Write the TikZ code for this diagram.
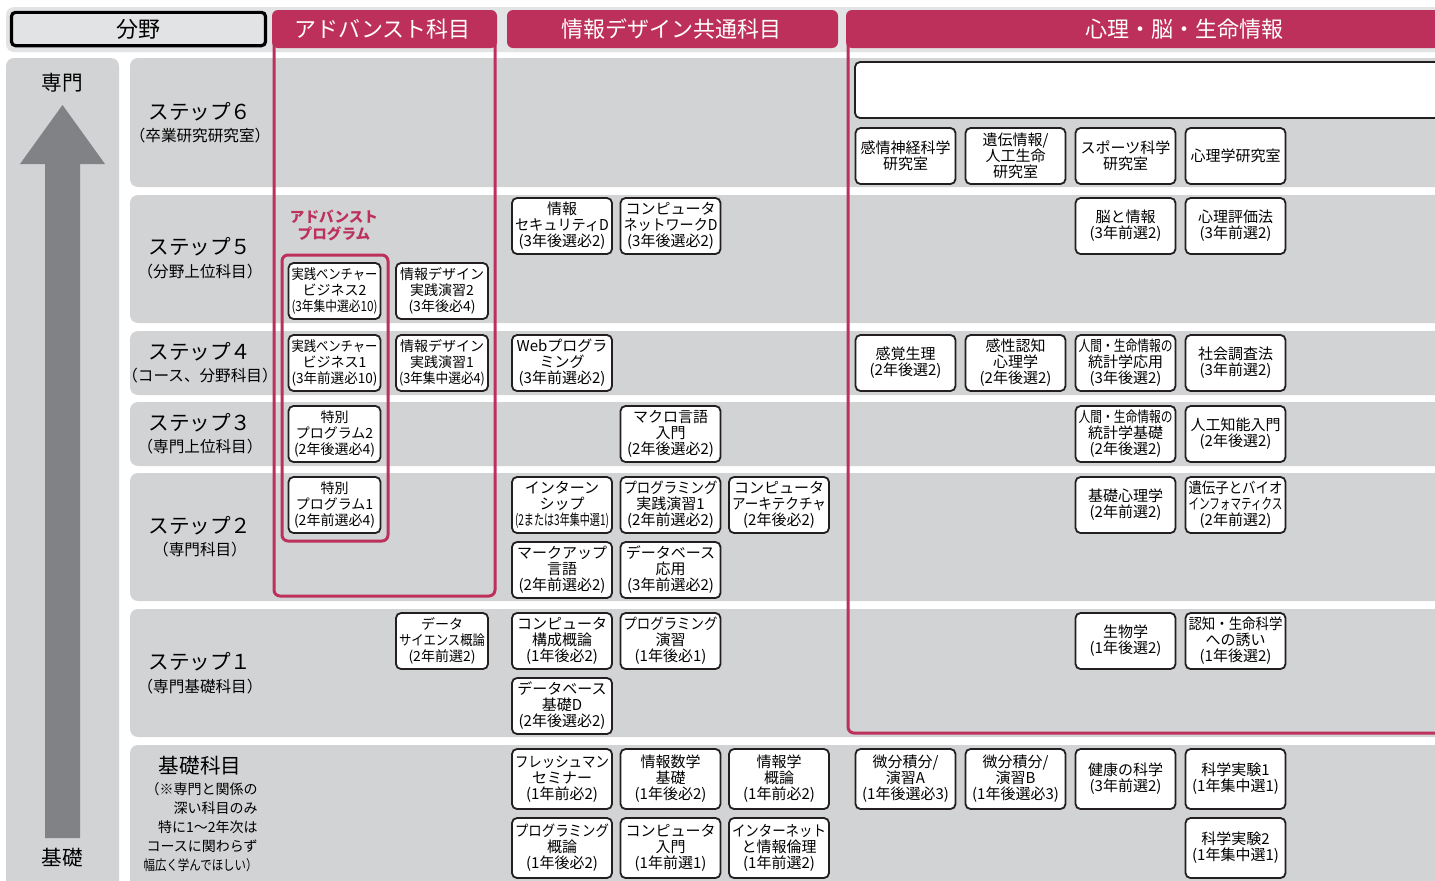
\documentclass[tikz,border=0pt]{standalone}
\usepackage{fontspec}
\setmainfont{Noto Sans CJK JP}
\usepackage{graphicx}
\usetikzlibrary{positioning}

\definecolor{rowgray}{HTML}{D1D3D4}
\definecolor{stripgray}{HTML}{E2E3E4}
\definecolor{arrowgray}{HTML}{808285}
\definecolor{advpink}{HTML}{BE305C}
\definecolor{boxline}{HTML}{231F20}

% squeeze a line that is wider than the box
\newlength\flmax
\newsavebox\flbox
\newcommand\fl[1]{\sbox\flbox{#1}\ifdim\wd\flbox>\flmax\relax
  \pgfmathsetmacro\fitf{\the\flmax/\the\wd\flbox}\scalebox{\fitf}[1]{\usebox\flbox}\else\usebox\flbox\fi}
\newcommand\twoln[2]{\fl{#1}\\\fl{#2}}
\newcommand\threeln[3]{\fl{#1}\\\fl{#2}\\\fl{#3}}

\tikzset{
  row/.style={fill=rowgray, rounded corners=4pt},
  course/.style={draw=boxline, fill=white, line width=0.9pt, rounded corners=2.5pt,
    minimum width=50pt, minimum height=28pt, inner sep=0.5pt, align=center,
    font=\fontsize{7.5}{8}\selectfont, execute at begin node={\setlength\flmax{47pt}}},
  advcourse/.style={course, minimum width=46pt, font=\fontsize{7}{8}\selectfont,
    execute at begin node={\setlength\flmax{43pt}}},
  basecourse/.style={course, minimum height=30pt},
  steptitle/.style={font=\fontsize{10.3}{12}\selectfont},
  stepsub/.style={font=\fontsize{7.8}{9}\selectfont},
  headtext/.style={font=\fontsize{11}{13}\selectfont, text=white},
  frame/.style={draw=advpink, line width=1.5pt, rounded corners=3pt},
  notes/.style={font=\fontsize{7}{9.5}\selectfont, align=right, inner sep=0pt,
    execute at begin node={\setlength\flmax{57pt}}},
}

\begin{document}
\begin{tikzpicture}[x=0.5pt, y=-0.5pt]
\useasboundingbox (0,0) rectangle (1435,880);
\clip (0,0) rectangle (1435,880);

% background bands
\fill[stripgray, rounded corners=4pt] (6,7) rectangle (1460,52);
\fill[row] (6,58) rectangle (119,900);
\fill[row] (130,58) rectangle (1460,187);
\fill[row] (130,195) rectangle (1460,323);
\fill[row] (130,331) rectangle (1460,395);
\fill[row] (130,402) rectangle (1460,466);
\fill[row] (130,473) rectangle (1460,601);
\fill[row] (130,609) rectangle (1460,737);
\fill[row] (130,745) rectangle (1460,900);

% level arrow
\fill[arrowgray] (45,838) -- (45,164) -- (20,164) -- (62.5,105) -- (105,164) -- (80,164) -- (80,838) -- cycle;
\node[steptitle] (expert) at (62,83) {専門};
\node[steptitle] (basic) at (62,858) {基礎};

% column headers and frames
\node[draw=black, line width=1.6pt, rounded corners=2pt, fill=stripgray, minimum width=127pt,
  minimum height=16.5pt, font=\fontsize{11}{13}\selectfont] (field) at (138.5,29) {分野};
\fill[advpink, rounded corners=3pt] (272,10) rectangle (497,48);
\draw[frame] (274,30) -- (274,596) -- (495,596) -- (495,30);
\draw[frame] (282,255) rectangle (388,541);
\fill[advpink, rounded corners=3pt] (507,10) rectangle (838,48);
\fill[advpink, rounded corners=3pt] (846,10) rectangle (1460,48);
\draw[frame] (848,30) -- (848,733) -- (1460,733);
\node[headtext] (advhead) at (382.5,29) {アドバンスト科目};
\node[headtext] (commonhead) at (671.5,29) {情報デザイン共通科目};
\node[headtext] (psyhead) at (1184,29) {心理・脳・生命情報};

% step labels
\node[steptitle] (s6) at (200,112) {ステップ６};
\node[stepsub] (s6sub) at (200,136) {（卒業研究研究室）};
\node[steptitle] (s5) at (200,247) {ステップ５};
\node[stepsub] (s5sub) at (200,272) {（分野上位科目）};
\node[steptitle] (s4) at (200,352) {ステップ４};
\node[stepsub] (s4sub) at (200,376) {（コース、分野科目）};
\node[steptitle] (s3) at (200,423) {ステップ３};
\node[stepsub] (s3sub) at (200,447) {（専門上位科目）};
\node[steptitle] (s2) at (200,526) {ステップ２};
\node[stepsub] (s2sub) at (200,550) {（専門科目）};
\node[steptitle] (s1) at (200,662) {ステップ１};
\node[stepsub] (s1sub) at (200,687) {（専門基礎科目）};
\node[steptitle] (s0) at (200,766) {基礎科目};
\node[notes, anchor=north east] (s0note) at (258,782)
  {\fl{（※専門と関係の}\\\fl{深い科目のみ}\\\fl{特に1～2年次は}\\\fl{コースに関わらず}\\\fl{幅広く学んでほしい）}};

\node[font=\fontsize{7.3}{8.5}\selectfont\bfseries, text=advpink, align=center] (advprog) at (334,225.5) {アドバンスト\\プログラム};

% step 6
\draw[draw=boxline, fill=white, line width=0.9pt, rounded corners=2.5pt] (855,62) rectangle (1460,118);
\node[course] (lab1) at (905.5,156) {\twoln{感情神経科学}{研究室}};
\node[course] (lab2) at (1015.5,156) {\threeln{遺伝情報/}{人工生命}{研究室}};
\node[course] (lab3) at (1125.5,156) {\twoln{スポーツ科学}{研究室}};
\node[course] (lab4) at (1235.5,156) {\fl{心理学研究室}};

% step 5
\node[course] (sec) at (562,226) {\threeln{情報}{セキュリティD}{(3年後選必2)}};
\node[course] (net) at (670.5,226) {\threeln{コンピュータ}{ネットワークD}{(3年後選必2)}};
\node[course] (brain) at (1125.5,226) {\twoln{脳と情報}{(3年前選2)}};
\node[course] (evalpsy) at (1235.5,226) {\twoln{心理評価法}{(3年前選2)}};
\node[advcourse] (venture2) at (334.5,291) {\threeln{実践ベンチャー}{ビジネス2}{(3年集中選必10)}};
\node[advcourse] (prac2) at (442,291) {\threeln{情報デザイン}{実践演習2}{(3年後必4)}};

% step 4
\node[advcourse] (venture1) at (334.5,363) {\threeln{実践ベンチャー}{ビジネス1}{(3年前選必10)}};
\node[advcourse] (prac1) at (442,363) {\threeln{情報デザイン}{実践演習1}{(3年集中選必4)}};
\node[course] (web) at (562,363) {\threeln{Webプログラ}{ミング}{(3年前選必2)}};
\node[course] (sense) at (905.5,363) {\twoln{感覚生理}{(2年後選2)}};
\node[course] (kansei) at (1015.5,363) {\threeln{感性認知}{心理学}{(2年後選2)}};
\node[course] (statapp) at (1125.5,363) {\threeln{人間・生命情報の}{統計学応用}{(3年後選2)}};
\node[course] (survey) at (1235.5,363) {\twoln{社会調査法}{(3年前選2)}};

% step 3
\node[advcourse] (special2) at (334.5,434) {\threeln{特別}{プログラム2}{(2年後選必4)}};
\node[course] (macro) at (670.5,434) {\threeln{マクロ言語}{入門}{(2年後選必2)}};
\node[course] (statbase) at (1125.5,434) {\threeln{人間・生命情報の}{統計学基礎}{(2年後選2)}};
\node[course] (ai) at (1235.5,434) {\twoln{人工知能入門}{(2年後選2)}};

% step 2
\node[advcourse] (special1) at (334.5,505) {\threeln{特別}{プログラム1}{(2年前選必4)}};
\node[course] (intern) at (562,505) {\threeln{インターン}{シップ}{(2または3年集中選1)}};
\node[course] (progprac) at (670.5,505) {\threeln{プログラミング}{実践演習1}{(2年前選必2)}};
\node[course] (arch) at (779,505) {\threeln{コンピュータ}{アーキテクチャ}{(2年後必2)}};
\node[course] (basepsy) at (1125.5,505) {\twoln{基礎心理学}{(2年前選2)}};
\node[course] (bioinf) at (1235.5,505) {\threeln{遺伝子とバイオ}{インフォマティクス}{(2年前選2)}};
\node[course] (markup) at (562,570) {\threeln{マークアップ}{言語}{(2年前選必2)}};
\node[course] (dbapp) at (670.5,570) {\threeln{データベース}{応用}{(3年前選必2)}};

% step 1
\node[advcourse] (datasci) at (442,641) {\threeln{データ}{サイエンス概論}{(2年前選2)}};
\node[course] (compstruct) at (562,641) {\threeln{コンピュータ}{構成概論}{(1年後必2)}};
\node[course] (progex) at (670.5,641) {\threeln{プログラミング}{演習}{(1年後必1)}};
\node[course] (biology) at (1125.5,641) {\twoln{生物学}{(1年後選2)}};
\node[course] (cogsci) at (1235.5,641) {\threeln{認知・生命科学}{への誘い}{(1年後選2)}};
\node[course] (dbbase) at (562,706) {\threeln{データベース}{基礎D}{(2年後選必2)}};

% basic subjects
\node[basecourse] (fresh) at (562,779) {\threeln{フレッシュマン}{セミナー}{(1年前必2)}};
\node[basecourse] (infmath) at (670.5,779) {\threeln{情報数学}{基礎}{(1年後必2)}};
\node[basecourse] (infintro) at (779,779) {\threeln{情報学}{概論}{(1年前必2)}};
\node[basecourse] (calca) at (905.5,779) {\threeln{微分積分/}{演習A}{(1年後選必3)}};
\node[basecourse] (calcb) at (1015.5,779) {\threeln{微分積分/}{演習B}{(1年後選必3)}};
\node[basecourse] (health) at (1125.5,779) {\twoln{健康の科学}{(3年前選2)}};
\node[basecourse] (exp1) at (1235.5,779) {\twoln{科学実験1}{(1年集中選1)}};
\node[basecourse] (progintro) at (562,848) {\threeln{プログラミング}{概論}{(1年後必2)}};
\node[basecourse] (compintro) at (670.5,848) {\threeln{コンピュータ}{入門}{(1年前選1)}};
\node[basecourse] (ethics) at (779,848) {\threeln{インターネット}{と情報倫理}{(1年前選2)}};
\node[basecourse] (exp2) at (1235.5,848) {\twoln{科学実験2}{(1年集中選1)}};

\end{tikzpicture}
\end{document}
